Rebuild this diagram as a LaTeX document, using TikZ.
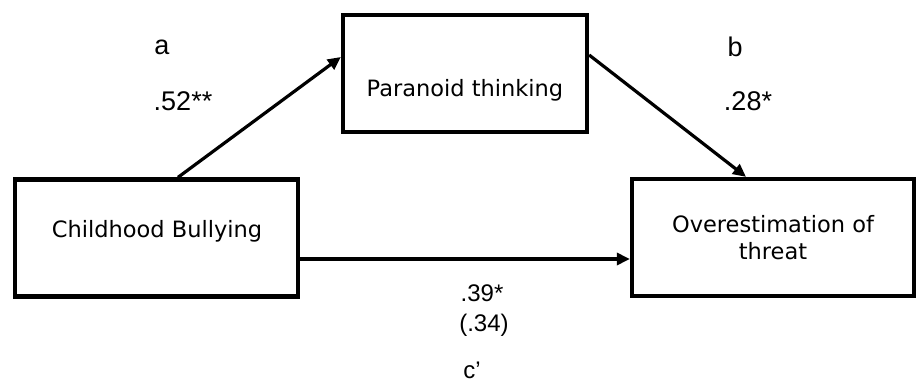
\documentclass[tikz,border=0pt]{standalone}
\usepackage{fontspec}
\setmainfont{DejaVu Sans}
\newfontfamily\coeffont{Liberation Sans}
\usetikzlibrary{arrows.meta}

\begin{document}
\begin{tikzpicture}[x=1pt, y=-1pt,
        varbox/.style={draw, line width=4.3pt, minimum width=#1, minimum height=117pt, inner sep=0pt},
        vartext/.style={font=\fontsize{22.5}{27}\selectfont, align=center},
        coef/.style={font=\coeffont\fontsize{27}{31}\selectfont},
        coefsmall/.style={font=\coeffont\fontsize{24}{28}\selectfont},
        effect/.style={line width=3.2pt, -{Triangle[length=13pt, width=12pt]}}]

        \useasboundingbox (0,0) rectangle (918,385);

        % Boxes
        \node[varbox=283pt] (bully) at (156.5,238) {};
        \node[varbox=244pt] (para) at (465,73.5) {};
        \node[varbox=282pt] (threat) at (773,237.5) {};

        \node[vartext, anchor=base] (bullyText) at (157,237) {Childhood Bullying};
        \node[vartext, anchor=base] (paraText) at (465,96.7) {Paranoid thinking};
        \node[vartext] (threatText) at (773,238) {Overestimation of\\threat};

        % Paths
        \draw[effect] ([xshift=21.5pt]bully.north) -- ([yshift=16.5pt]para.west);
        \draw[effect] ([yshift=18.5pt]para.east) -- ([xshift=-27pt]threat.north);
        \draw[effect] ([yshift=-21pt]bully.east) -- ([yshift=-21pt]bully.east -| threat.west);

        % Coefficients
        \node[coef] (aLabel) at (162,47) {a};
        \node[coef] (aCoef) at (183,101) {.52**};
        \node[coef] (bLabel) at (735,47) {b};
        \node[coef] (bCoef) at (748,101) {.28*};
        \node[coefsmall] (cCoef) at (482,293) {.39*};
        \node[coefsmall] (cTotal) at (484,325) {(.34)};
        \node[coefsmall, anchor=base, inner sep=0pt] (cLabel) at (472,378) {c’};
\end{tikzpicture}
\end{document}
